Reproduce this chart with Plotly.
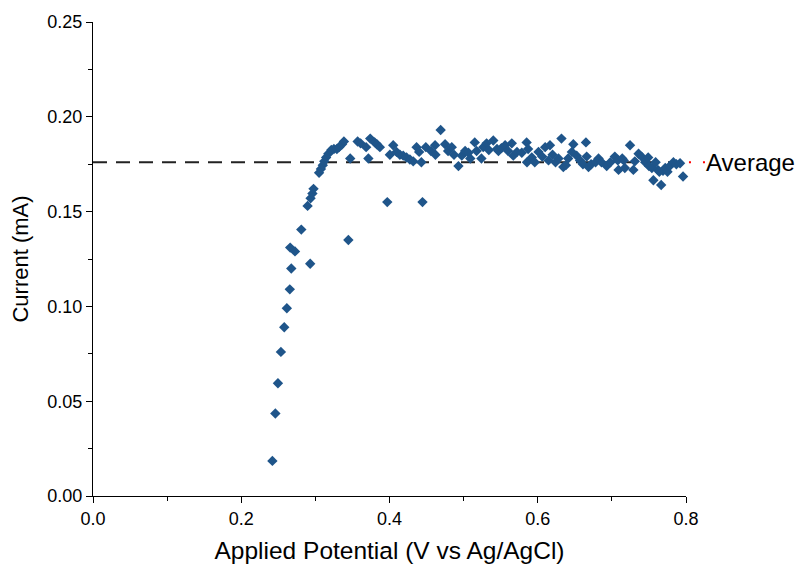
import plotly.graph_objects as go

potential = [
    0.242, 0.246, 0.2495, 0.2535, 0.258, 0.2615, 0.2655, 0.2675, 0.2660, 0.2725,
    0.2810, 0.2895, 0.2930, 0.2935, 0.2960, 0.2975, 0.3050, 0.3075, 0.3100, 0.3120,
    0.3145, 0.3175, 0.3215, 0.3250, 0.3290, 0.3320, 0.3360, 0.3385, 0.3445, 0.3470,
    0.3570, 0.3610, 0.3685, 0.3715, 0.3740, 0.3800, 0.3830, 0.3870, 0.3970, 0.4005,
    0.4050, 0.4095, 0.4140, 0.4185, 0.4230, 0.4275, 0.4320, 0.4365, 0.4400, 0.4430,
    0.4445, 0.4490, 0.4560, 0.4615, 0.4620, 0.4690, 0.4750, 0.4790, 0.4840, 0.4870,
    0.4930, 0.4975, 0.5020, 0.5065, 0.5090, 0.5150, 0.5175, 0.5240, 0.5265, 0.5310,
    0.5340, 0.5400, 0.5450, 0.5470, 0.5510, 0.5560, 0.5600, 0.5650, 0.5670, 0.5720,
    0.5785, 0.5850, 0.5870, 0.5855, 0.5920, 0.5960, 0.6010, 0.6060, 0.6100, 0.6165,
    0.6145, 0.6200, 0.6240, 0.6280, 0.6320, 0.6345, 0.6380, 0.6410, 0.6460, 0.6480,
    0.6525, 0.6570, 0.6610, 0.6650, 0.6660, 0.6685, 0.6720, 0.6780, 0.6820, 0.6860,
    0.6930, 0.6980, 0.7040, 0.7080, 0.7090, 0.7140, 0.7160, 0.7175, 0.7245, 0.7290,
    0.7310, 0.7360, 0.7400, 0.7450, 0.7490, 0.7500, 0.7540, 0.7560, 0.7590, 0.7620,
    0.7640, 0.7665, 0.7690, 0.7720, 0.7750, 0.7780, 0.7830, 0.7870, 0.7920, 0.7960,
]
current = [
    0.0185, 0.0435, 0.0595, 0.0760, 0.0890, 0.0990, 0.1090, 0.1200, 0.1310, 0.1290,
    0.1405, 0.1530, 0.1225, 0.1570, 0.1595, 0.1620, 0.1705, 0.1725, 0.1745, 0.1765,
    0.1785, 0.1805, 0.1825, 0.1830, 0.1830, 0.1840, 0.1855, 0.1870, 0.1350, 0.1780,
    0.1870, 0.1860, 0.1840, 0.1780, 0.1885, 0.1865, 0.1855, 0.1840, 0.1550, 0.1800,
    0.1850, 0.1815, 0.1800, 0.1795, 0.1785, 0.1775, 0.1765, 0.1840, 0.1815, 0.1760,
    0.1550, 0.1840, 0.1820, 0.1850, 0.1800, 0.1930, 0.1855, 0.1820, 0.1840, 0.1800,
    0.1740, 0.1795, 0.1820, 0.1810, 0.1780, 0.1865, 0.1820, 0.1780, 0.1840, 0.1860,
    0.1825, 0.1875, 0.1830, 0.1820, 0.1835, 0.1850, 0.1820, 0.1860, 0.1795, 0.1815,
    0.1810, 0.1865, 0.1830, 0.1760, 0.1785, 0.1760, 0.1815, 0.1790, 0.1840, 0.1850,
    0.1770, 0.1800, 0.1760, 0.1780, 0.1885, 0.1735, 0.1745, 0.1780, 0.1815, 0.1855,
    0.1795, 0.1770, 0.1750, 0.1865, 0.1790, 0.1735, 0.1750, 0.1760, 0.1780, 0.1760,
    0.1740, 0.1760, 0.1790, 0.1770, 0.1720, 0.1780, 0.1770, 0.1730, 0.1850, 0.1720,
    0.1765, 0.1805, 0.1790, 0.1760, 0.1785, 0.1740, 0.1730, 0.1665, 0.1760, 0.1720,
    0.1710, 0.1640, 0.1715, 0.1730, 0.1710, 0.1740, 0.1760, 0.1750, 0.1755, 0.1685,
]
average_current = 0.176
average_span = [0.0, 0.8]
average_label = "Average"
x_title = "Applied Potential (V vs Ag/AgCl)"
y_title = "Current (mA)"

FONT = "Arial, Liberation Sans, sans-serif"

fig = go.Figure()
fig.add_trace(go.Scatter(
    x=average_span, y=[average_current] * len(average_span),
    mode="lines", line=dict(color="#222222", width=2, dash="14px,9px"),
    showlegend=False, hoverinfo="skip",
))
fig.add_trace(go.Scatter(
    x=potential, y=current, mode="markers",
    marker=dict(symbol="diamond", size=8, color="#1f558a", line=dict(width=0)),
    showlegend=False, cliponaxis=False,
))

fig.add_shape(type="line", xref="paper", yref="y",
              x0=1.005, x1=1.032, y0=average_current, y1=average_current,
              line=dict(color="red", width=2, dash="2px,12px"))
fig.add_annotation(xref="paper", yref="y", x=1.031, y=average_current,
                   text=average_label, showarrow=False, xanchor="left", yanchor="middle",
                   font=dict(family=FONT, size=24, color="black"))

fig.update_layout(
    width=799, height=573,
    margin=dict(l=93, r=113, t=19, b=77),
    paper_bgcolor="white", plot_bgcolor="white",
    font=dict(family=FONT, color="black"),
)
fig.update_xaxes(
    range=[0, 0.8], dtick=0.2, tick0=0, tickformat=".1f",
    showline=True, linecolor="black", linewidth=1.3, mirror=False,
    ticks="outside", ticklen=6, tickwidth=1.3, tickcolor="black",
    minor=dict(dtick=0.1, ticks="outside", ticklen=4, tickwidth=1.3, tickcolor="black", showgrid=False),
    showgrid=False, zeroline=False,
    tickfont=dict(family=FONT, size=18),
    title=dict(text=x_title, font=dict(family=FONT, size=24.5), standoff=14),
)
fig.update_yaxes(
    range=[0, 0.25], dtick=0.05, tick0=0, tickformat=".2f",
    showline=True, linecolor="black", linewidth=1.3, mirror=False,
    ticks="outside", ticklen=6, tickwidth=1.3, tickcolor="black",
    minor=dict(dtick=0.025, ticks="outside", ticklen=4, tickwidth=1.3, tickcolor="black", showgrid=False),
    showgrid=False, zeroline=False,
    tickfont=dict(family=FONT, size=18),
    title=dict(text=y_title, font=dict(family=FONT, size=22), standoff=12),
)

fig.write_html("out.html")
